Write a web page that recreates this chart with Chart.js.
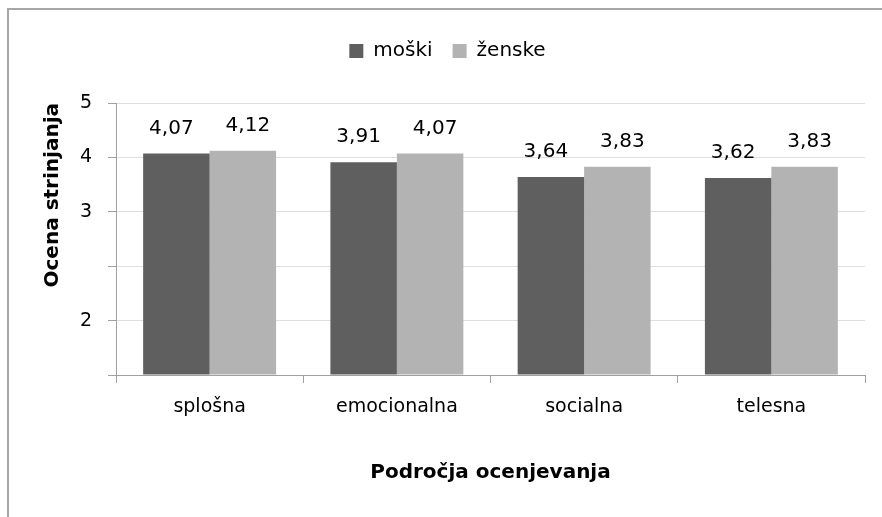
<!DOCTYPE html>
<html>
<head>
<meta charset="utf-8">
<script src="https://cdn.jsdelivr.net/npm/chart.js@4.4.1/dist/chart.umd.min.js"></script>
<style>
    html, body { margin: 0; padding: 0; background: #fff; overflow: hidden; }
    canvas { display: block; }
</style>
</head>
<body>
<canvas id="chart" width="882" height="517"></canvas>
<script>
// Chart data
const categories = ['splošna', 'emocionalna', 'socialna', 'telesna'];
const seriesNames = ['moški', 'ženske'];
const maleValues = [4.07, 3.91, 3.64, 3.62];
const femaleValues = [4.12, 4.07, 3.83, 3.83];
// y tick labels as printed on the original axis (index = tick value)
const yTickLabels = ['', '2', '', '3', '4', '5'];

const FONT = "'DejaVu Sans', sans-serif";
const labelShift = [-5, 5];

// Outer chart frame (left and top edges only are visible)
const chartFrame = {
    id: 'chartFrame',
    beforeDraw(chart) {
        const ctx = chart.ctx;
        ctx.save();
        ctx.strokeStyle = '#a6a6a6';
        ctx.lineWidth = 2;
        ctx.beginPath();
        ctx.moveTo(8, chart.height);
        ctx.lineTo(8, 9);
        ctx.lineTo(chart.width, 9);
        ctx.stroke();
        ctx.restore();
    }
};

// Draw value labels above bars
const valueLabels = {
    id: 'valueLabels',
    afterDatasetsDraw(chart) {
        const ctx = chart.ctx;
        ctx.save();
        ctx.font = '20px ' + FONT;
        ctx.fillStyle = '#000';
        ctx.textAlign = 'center';
        ctx.textBaseline = 'middle';
        chart.data.datasets.forEach((ds, i) => {
            chart.getDatasetMeta(i).data.forEach((bar, j) => {
                const text = ds.data[j].toFixed(2).replace('.', ',');
                ctx.fillText(text, bar.x + labelShift[i], bar.y - 25);
            });
        });
        ctx.restore();
    }
};

const ctx = document.getElementById('chart').getContext('2d');

new Chart(ctx, {
    type: 'bar',
    data: {
        labels: categories,
        datasets: [
            {
                label: seriesNames[0],
                data: maleValues,
                backgroundColor: '#5f5f5f',
                barPercentage: 1,
                categoryPercentage: 0.71
            },
            {
                label: seriesNames[1],
                data: femaleValues,
                backgroundColor: '#b3b3b3',
                barPercentage: 1,
                categoryPercentage: 0.71
            }
        ]
    },
    options: {
        responsive: false,
        animation: false,
        devicePixelRatio: 1,
        layout: {
            padding: { left: 30, right: 17, top: 21, bottom: 20 }
        },
        plugins: {
            legend: {
                position: 'top',
                labels: {
                    boxWidth: 14,
                    boxHeight: 14,
                    padding: 20,
                    color: '#000',
                    font: { family: FONT, size: 20 }
                }
            },
            // empty spacer between legend and plot
            subtitle: {
                display: true,
                text: '',
                weight: 500,
                font: { size: 10 },
                padding: { top: 0, bottom: 20 }
            },
            tooltip: { enabled: false }
        },
        scales: {
            x: {
                grid: {
                    drawOnChartArea: false,
                    drawTicks: true,
                    tickLength: 8,
                    tickColor: '#a0a0a0'
                },
                border: { color: '#a0a0a0', width: 1 },
                ticks: {
                    color: '#000',
                    padding: 13,
                    font: { family: FONT, size: 19 }
                },
                title: {
                    display: true,
                    text: 'Področja ocenjevanja',
                    color: '#000',
                    font: { family: FONT, size: 20, weight: 'bold' },
                    padding: { top: 10, bottom: 12 }
                },
                afterFit(scale) {
                    scale.height = 517 - 20 - 375;
                }
            },
            y: {
                min: 0,
                max: 5,
                grid: {
                    color: '#dedede',
                    tickColor: '#a0a0a0',
                    tickLength: 8
                },
                border: { color: '#a0a0a0', width: 1 },
                ticks: {
                    stepSize: 1,
                    color: '#000',
                    padding: 16,
                    font: { family: FONT, size: 19 },
                    callback: value => yTickLabels[value]
                },
                title: {
                    display: true,
                    text: 'Ocena strinjanja',
                    align: 'end',
                    color: '#000',
                    font: { family: FONT, size: 20, weight: 'bold' },
                    padding: { top: 11, bottom: 0 }
                },
                afterFit(scale) {
                    scale.width = 116 - 30;
                }
            }
        }
    },
    plugins: [chartFrame, valueLabels]
});
</script>
</body>
</html>
